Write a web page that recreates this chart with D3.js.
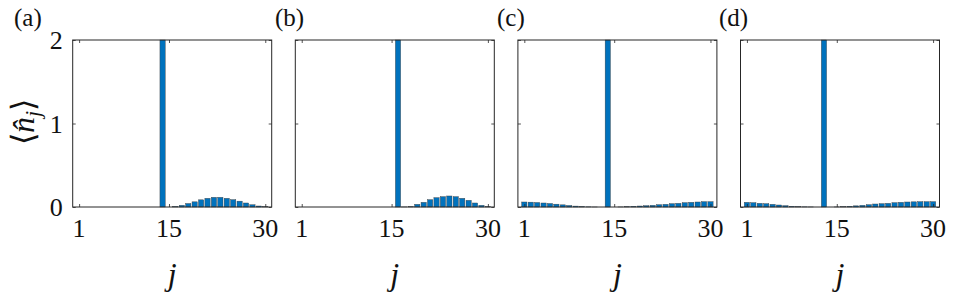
<!DOCTYPE html>
<html>
<head>
<meta charset="utf-8">
<script src="https://cdn.jsdelivr.net/npm/d3@7"></script>
<style>
  body { margin: 0; background: #fff; }
</style>
</head>
<body>
<div id="chart"></div>
<script>
// site index j = 1..30
const sites = d3.range(1, 31);
const xTicks = [1, 15, 30];
const yTicks = [0, 1, 2];
const panelLabels = ["(a)", "(b)", "(c)", "(d)"];

// <n_j>
const nA = [0, 0, 0, 0, 0, 0, 0, 0, 0, 0, 0, 0, 0, 2, 0,
            0.006, 0.02, 0.042, 0.062, 0.086, 0.104, 0.116, 0.116, 0.104, 0.088,
            0.07, 0.048, 0.027, 0.012, 0.003];
const nB = [0, 0, 0, 0, 0, 0, 0, 0, 0, 0, 0, 0, 0, 0, 0,
            2, 0.001, 0.004, 0.032, 0.056, 0.088, 0.112, 0.124, 0.132, 0.124,
            0.104, 0.08, 0.048, 0.02, 0.004];
const nC = [0.06, 0.058, 0.054, 0.048, 0.042, 0.034, 0.026, 0.018, 0.011, 0.005,
            0.002, 0.0005, 0, 2, 0,
            0.001, 0.004, 0.008, 0.012, 0.016, 0.02, 0.028, 0.032, 0.04, 0.044,
            0.052, 0.056, 0.06, 0.064, 0.064];
const nD = [0.056, 0.052, 0.044, 0.04, 0.032, 0.024, 0.016, 0.008, 0.004, 0.002,
            0.001, 0, 2, 0, 0.001,
            0.004, 0.008, 0.014, 0.02, 0.028, 0.036, 0.04, 0.044, 0.052, 0.056,
            0.06, 0.062, 0.064, 0.064, 0.064];
const panels = [nA, nB, nC, nD];

const width = 957, height = 300;
const pw = 199, yTop = 40, yBottom = 207;
const step = 222.6, left0 = 72.7;
const labelX = [14, 275, 497, 719];
const serif = '"Liberation Serif"';
const ink = "#111";
const axisColor = "#262626";
const barColor = "#0072BD";

const svg = d3.select("#chart").append("svg")
    .attr("width", width)
    .attr("height", height)
    .attr("viewBox", [0, 0, width, height])
    .style("font-family", serif);

const y = d3.scaleLinear().domain([0, 2]).range([yBottom, yTop]);

// plain text helper, same path for every label
const label = (xx, yy, str, size, anchor) => svg.append("text")
    .attr("x", xx).attr("y", yy)
    .attr("text-anchor", anchor || "start")
    .style("font-family", serif)
    .attr("font-size", size)
    .attr("fill", ink)
    .text(str);

panels.forEach((vals, p) => {
    const x0 = left0 + p * step;
    const x = d3.scaleLinear().domain([0, 31]).range([x0, x0 + pw]);
    const bw = (x(1) - x(0)) * 0.82;
    const g = svg.append("g");

    // bars
    g.append("g")
        .selectAll("rect")
        .data(sites.map((j, i) => ({j, v: vals[i]})).filter(d => d.v > 0))
        .join("rect")
        .attr("x", d => x(d.j) - bw / 2)
        .attr("width", bw)
        .attr("y", d => y(d.v))
        .attr("height", d => y(0) - y(d.v))
        .attr("fill", barColor)
        .attr("stroke", "#3a3a3a")
        .attr("stroke-width", 0.4);

    const tickStyle = a => {
        a.select(".domain").remove();
        a.selectAll(".tick text").remove();
        a.selectAll(".tick line").attr("stroke", axisColor).attr("stroke-width", 0.8);
    };

    g.append("g")
        .attr("transform", `translate(0,${yBottom})`)
        .call(d3.axisBottom(x).tickValues(xTicks).tickSizeInner(-3).tickSizeOuter(0))
        .call(tickStyle);
    g.append("g")
        .attr("transform", `translate(0,${yTop})`)
        .call(d3.axisTop(x).tickValues(xTicks).tickSizeInner(-3).tickSizeOuter(0))
        .call(tickStyle);
    g.append("g")
        .attr("transform", `translate(${x0},0)`)
        .call(d3.axisLeft(y).tickValues(yTicks).tickSizeInner(-3).tickSizeOuter(0))
        .call(tickStyle);
    g.append("g")
        .attr("transform", `translate(${x0 + pw},0)`)
        .call(d3.axisRight(y).tickValues(yTicks).tickSizeInner(-3).tickSizeOuter(0))
        .call(tickStyle);

    // tick labels
    xTicks.forEach(t => label(x(t), 237, String(t), 26, "middle"));
    if (p === 0) yTicks.forEach(t => label(x0 - 10, y(t) + 9, String(t), 26, "end"));

    // box
    g.append("rect")
        .attr("x", x0).attr("y", yTop)
        .attr("width", pw).attr("height", yBottom - yTop)
        .attr("fill", "none")
        .attr("stroke", axisColor)
        .attr("stroke-width", 1);

    // x label
    label(x0 + pw / 2, 285, "j", 32, "middle").attr("font-style", "italic");

    // panel label
    label(labelX[p], 26, panelLabels[p], 25);
});

// y label
const yl = svg.append("text")
    .attr("transform", "translate(34,122) rotate(-90)")
    .attr("text-anchor", "middle")
    .style("font-family", serif)
    .attr("font-size", 32)
    .attr("fill", ink);
yl.append("tspan").text("\u27E8");
yl.append("tspan").attr("font-style", "italic").text("n\u0302");
yl.append("tspan").attr("font-style", "italic").attr("font-size", 22).attr("dy", 6).text("j");
yl.append("tspan").attr("dy", -6).text("\u27E9");
</script>
</body>
</html>
